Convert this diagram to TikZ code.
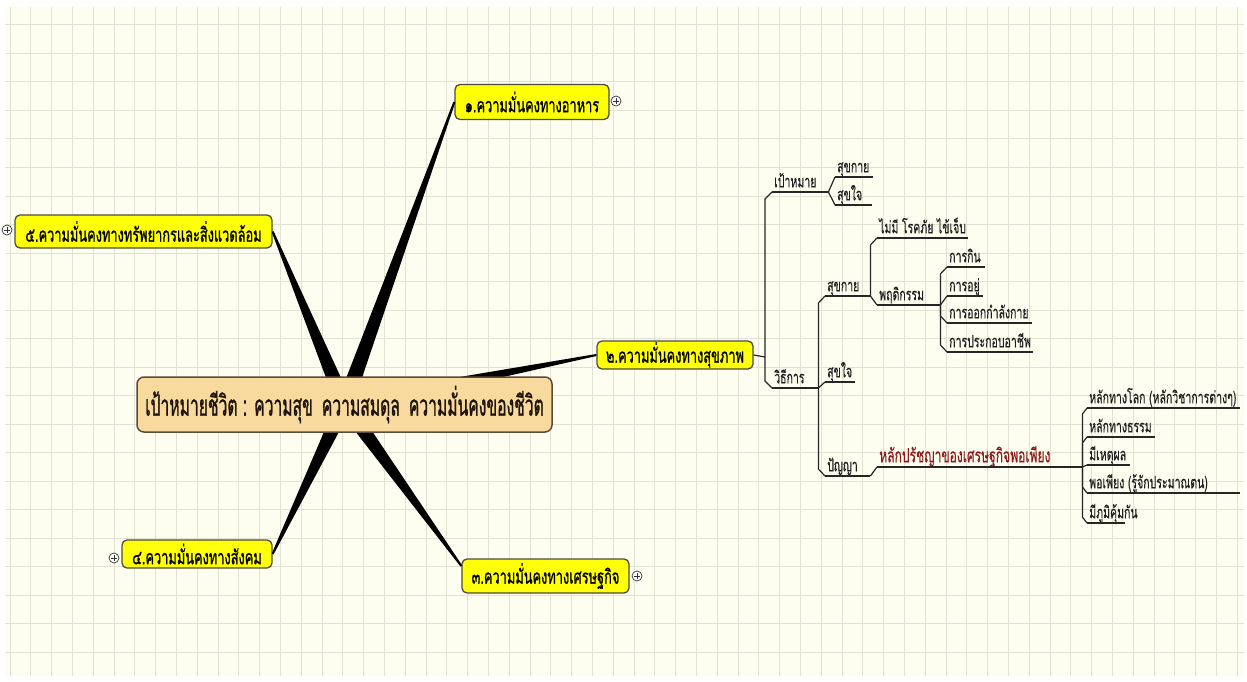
\documentclass[tikz,border=0pt]{standalone}
\usepackage{fontspec}
\newfontfamily\thaiA[Script=Thai,FakeStretch=0.62,FakeBold=0.3]{Loma}
\newfontfamily\thaiB[Script=Thai,FakeStretch=0.64,FakeBold=0.8]{Loma}
\newfontfamily\thaiC[Script=Thai,FakeStretch=0.54,FakeBold=0.9]{Loma}
\usetikzlibrary{calc}
\definecolor{bgc}{HTML}{FDFDF0}
\definecolor{gridc}{HTML}{E1E3D2}
\definecolor{yel}{HTML}{FFFF05}
\definecolor{peach}{HTML}{F8D99E}
\definecolor{bord}{HTML}{4B4B40}
\definecolor{cbord}{HTML}{5A4A3A}
\definecolor{ink}{HTML}{1E1E1E}
\definecolor{dred}{HTML}{8C1A1A}
\newcommand\lt[2]{\makebox[#1][l]{#2}}
\newcommand\bev[3]{\draw[uline] (#1) -- ($(#1 |- #2)+(0,#3)$) -- (#2);}
\newcommand\wedgeto[2]{\fill[black] ($(#1)!8pt!90:(#2)$) -- ($(#2)!1pt!-90:(#1)$) -- ($(#2)!1pt!90:(#1)$) -- ($(#1)!8pt!-90:(#2)$) -- cycle;}
\tikzset{
 topic/.style={draw=bord, line width=1.3pt, rounded corners=5pt, fill=yel, inner sep=0pt,
   font=\thaiB\fontsize{20}{22}\selectfont, text=black},
 centre/.style={draw=cbord, line width=1.5pt, rounded corners=7pt, fill=peach, inner sep=0pt,
   minimum width=415pt, minimum height=55pt, font=\thaiC\fontsize{29}{32}\selectfont, text=black!85!brown},
 leaf/.style={anchor=south west, inner xsep=2pt, inner ysep=2pt, text height=10pt, text depth=2.5pt,
   font=\thaiA\fontsize{17}{19}\selectfont, text=ink},
 uline/.style={draw=black!85, line width=1.2pt},
 plus/.style={circle, draw=black!80, line width=0.7pt, minimum size=10pt, inner sep=0pt, fill=white},
}
\begin{document}
\begin{tikzpicture}[x=1pt,y=-1pt]
\useasboundingbox (0,0) rectangle (1247,682);
\fill[white] (0,0) rectangle (1247,682);
\fill[bgc] (5,7) rectangle (1244,676);
\foreach \x in {10,30.8,...,1244} \draw[gridc, line width=1pt] (\x,7) -- (\x,676);
\foreach \y in {25,53.5,...,676} \draw[gridc, line width=1pt] (5,\y) -- (1244,\y);

% main topics
\node[topic, minimum width=154pt, minimum height=35pt] (n1) at (532,102) {๑.ความมั่นคงทางอาหาร};
\node[topic, minimum width=156pt, minimum height=28pt] (n2) at (675,355) {๒.ความมั่นคงทางสุขภาพ};
\node[topic, minimum width=167pt, minimum height=34pt] (n3) at (545.5,576) {๓.ความมั่นคงทางเศรษฐกิจ};
\node[topic, minimum width=150pt, minimum height=28pt] (n4) at (197,554) {๔.ความมั่นคงทางสังคม};
\node[topic, minimum width=257pt, minimum height=33pt] (n5) at (143.5,231.5) {๕.ความมั่นคงทางทรัพยากรและสิ่งแวดล้อม};

\coordinate (hub) at (344.5,404.5);
\coordinate (e3) at ($(n3.west)+(0,-10)$);
\wedgeto{hub}{n1.west}
\wedgeto{hub}{n2.west}
\wedgeto{hub}{e3}
\wedgeto{hub}{n4.east}
\wedgeto{hub}{n5.east}

\node[centre] (c) at (hub) {เป้าหมายชีวิต : ความสุข\hspace{9pt}ความสมดุล\hspace{9pt}ความมั่นคงของชีวิต};

% expand markers
\node[plus] (p1) at (616,101) {};
\node[plus] (p3) at (637,576) {};
\node[plus] (p4) at (114,558) {};
\node[plus] (p5) at (7,230) {};
\foreach \p in {p1,p3,p4,p5} {
  \draw[black!80, line width=0.7pt] ([xshift=-3pt]\p.center) -- ([xshift=3pt]\p.center);
  \draw[black!80, line width=0.7pt] ([yshift=-3pt]\p.center) -- ([yshift=3pt]\p.center);
}

% right tree
\node[leaf] (A) at (772,192) {\lt{52pt}{เป้าหมาย}};
\node[leaf] (B) at (772,388) {\lt{42pt}{วิธีการ}};
\node[leaf] (a1) at (835,177) {\lt{34pt}{สุขกาย}};
\node[leaf] (a2) at (835,205) {\lt{33pt}{สุขใจ}};
\node[leaf] (b1) at (825,296) {\lt{41pt}{สุขกาย}};
\node[leaf] (b2) at (825,382) {\lt{26pt}{สุขใจ}};
\node[leaf] (b3) at (825,476) {\lt{41pt}{ปัญญา}};
\node[leaf] (c1) at (877,238) {\lt{87pt}{ไม่มี โรคภัย ไข้เจ็บ}};
\node[leaf] (c2) at (877,305) {\lt{49pt}{พฤติกรรม}};
\node[leaf] (d1) at (947,267) {\lt{34pt}{การกิน}};
\node[leaf] (d2) at (947,296) {\lt{32pt}{การอยู่}};
\node[leaf] (d3) at (947,323) {\lt{81pt}{การออกกำลังกาย}};
\node[leaf] (d4) at (947,352) {\lt{82pt}{การประกอบอาชีพ}};
\node[leaf, text=dred, font=\thaiA\fontsize{19.5}{21}\selectfont] (e) at (877,467) {\lt{192pt}{หลักปรัชญาของเศรษฐกิจพอเพียง}};
\node[leaf] (f1) at (1087,408) {\lt{149pt}{หลักทางโลก (หลักวิชาการต่างๆ)}};
\node[leaf] (f2) at (1087,437) {\lt{64pt}{หลักทางธรรม}};
\node[leaf] (f3) at (1087,465) {\lt{39pt}{มีเหตุผล}};
\node[leaf] (f4) at (1087,493) {\lt{149pt}{พอเพียง (รู้จักประมาณตน)}};
\node[leaf] (f5) at (1087,523) {\lt{34pt}{มีภูมิคุ้มกัน}};

\foreach \n in {A,B,a1,a2,b1,b2,b3,c1,c2,d1,d2,d3,d4,e,f1,f2,f3,f4,f5}
  \draw[uline] (\n.south west) -- (\n.south east);

\coordinate (j0) at (765,357);
\draw[uline] (n2.east) -- (j0);
\bev{j0}{A.south west}{7}
\bev{j0}{B.south west}{-7}
\draw[uline] (A.south east) -- (a1.south west);
\draw[uline] (A.south east) -- (a2.south west);
\bev{B.south east}{b1.south west}{7}
\draw[uline] (B.south east) -- (b2.south west);
\bev{B.south east}{b3.south west}{-7}
\bev{b1.south east}{c1.south west}{7}
\draw[uline] (b1.south east) -- (c2.south west);
\coordinate (jc) at ($(c2.south east)+(10,0)$);
\draw[uline] (c2.south east) -- (jc);
\bev{jc}{d1.south west}{7}
\draw[uline] (jc) -- (d2.south west);
\bev{jc}{d3.south west}{-7}
\bev{jc}{d4.south west}{-7}
\draw[uline] (b3.south east) -- (e.south west);
\coordinate (je) at ($(e.south east)+(9,0)$);
\draw[uline] (e.south east) -- (je);
\bev{je}{f1.south west}{6}
\bev{je}{f2.south west}{6}
\draw[uline] (je) -- (f3.south west);
\bev{je}{f4.south west}{-6}
\bev{je}{f5.south west}{-6}
\end{tikzpicture}
\end{document}
